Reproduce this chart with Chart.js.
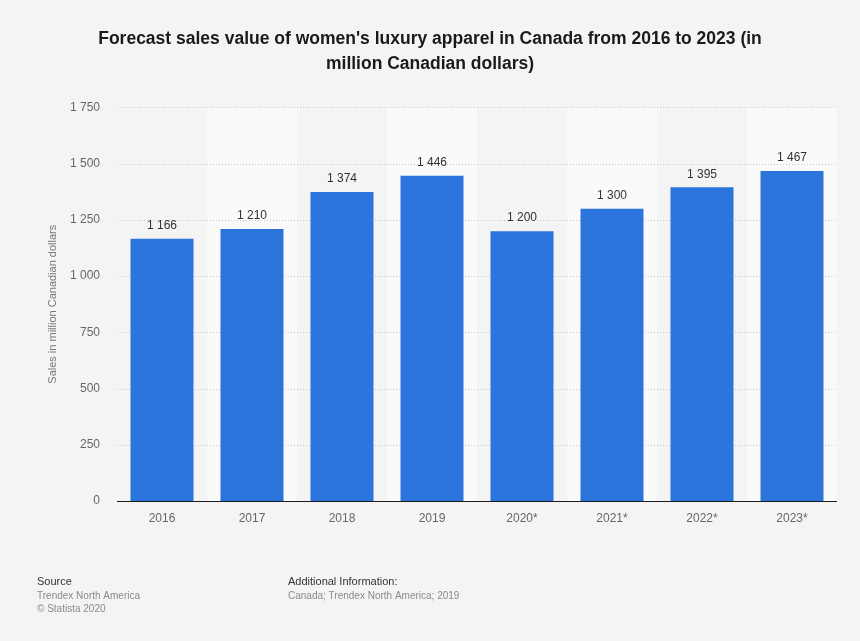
<!DOCTYPE html>
<html>
<head>
<meta charset="utf-8">
<script src="https://cdn.jsdelivr.net/npm/chart.js@4.4.0/dist/chart.umd.min.js"></script>
<style>
  html, body { margin: 0; padding: 0; background: #f4f4f4; }
  #wrap { width: 860px; height: 641px; position: relative; }
</style>
</head>
<body>
<div id="wrap"><canvas id="chart" width="860" height="641"></canvas></div>
<script>
var years = ['2016', '2017', '2018', '2019', '2020*', '2021*', '2022*', '2023*'];
var sales = [1166, 1210, 1374, 1446, 1200, 1300, 1395, 1467];
var yTicks = [0, 250, 500, 750, 1000, 1250, 1500, 1750];

function fmt(v) {
  // statista uses a space as thousands separator
  return String(v).replace(/\B(?=(\d{3})+(?!\d))/g, ' ');
}

// alternate light stripes behind every second category
var bandPlugin = {
  id: 'bands',
  beforeDatasetsDraw: function(chart) {
    var ctx = chart.ctx, area = chart.chartArea, x = chart.scales.x;
    var w = (area.right - area.left) / years.length;
    ctx.save();
    ctx.fillStyle = '#fafafa';
    for (var i = 1; i < years.length; i += 2) {
      var cx = x.getPixelForValue(i);
      ctx.fillRect(cx - w / 2, area.top, w, area.bottom - area.top);
    }
    // dotted grid on top of bands
    var y = chart.scales.y;
    ctx.strokeStyle = '#c8c8c8';
    ctx.lineWidth = 1;
    ctx.setLineDash([1, 2]);
    for (var j = 1; j < yTicks.length; j++) {
      var py = Math.round(y.getPixelForValue(yTicks[j])) + 0.5;
      ctx.beginPath();
      ctx.moveTo(area.left, py);
      ctx.lineTo(area.right, py);
      ctx.stroke();
    }
    ctx.setLineDash([]);
    ctx.strokeStyle = '#1a1a1a';
    var py0 = Math.round(y.getPixelForValue(0)) + 0.5;
    ctx.beginPath();
    ctx.moveTo(area.left, py0);
    ctx.lineTo(area.right, py0);
    ctx.stroke();
    ctx.restore();
  }
};

var labelPlugin = {
  id: 'valueLabels',
  afterDatasetsDraw: function(chart) {
    var ctx = chart.ctx;
    var meta = chart.getDatasetMeta(0);
    ctx.save();
    ctx.font = '12px "Liberation Sans", Arial, sans-serif';
    ctx.fillStyle = '#333333';
    ctx.textAlign = 'center';
    ctx.textBaseline = 'bottom';
    meta.data.forEach(function(bar, i) {
      ctx.fillText(fmt(sales[i]), bar.x, bar.y - 7);
    });
    ctx.restore();
  }
};

var footerPlugin = {
  id: 'footer',
  afterDraw: function(chart) {
    var ctx = chart.ctx;
    ctx.save();
    ctx.textBaseline = 'alphabetic';
    ctx.textAlign = 'left';
    ctx.font = '11px "Liberation Sans", Arial, sans-serif';
    ctx.fillStyle = '#333333';
    ctx.fillText('Source', 37, 585);
    ctx.fillText('Additional Information:', 288, 585);
    ctx.fillStyle = '#8a8a8a';
    ctx.font = '10px "Liberation Sans", Arial, sans-serif';
    ctx.fillText('Trendex North America', 37, 599);
    ctx.fillText('\u00A9 Statista 2020', 37, 612);
    ctx.fillText('Canada; Trendex North America; 2019', 288, 599);
    ctx.restore();
  }
};

var chartElement = document.getElementById('chart');

var chart = new Chart(chartElement, {
  type: 'bar',
  data: {
    labels: years,
    datasets: [{
      data: sales,
      backgroundColor: '#2a74dc',
      borderWidth: 0,
      barPercentage: 0.7,
      categoryPercentage: 1.0
    }]
  },
  options: {
    responsive: false,
    animation: false,
    layout: {
      padding: { left: 23, right: 23, top: 0, bottom: 110 }
    },
    plugins: {
      legend: { display: false },
      tooltip: { enabled: false },
      title: {
        display: true,
        text: ['Forecast sales value of women\'s luxury apparel in Canada from 2016 to 2023 (in', 'million Canadian dollars)'],
        color: '#1a1a1a',
        font: { family: '"Liberation Sans", Arial, sans-serif', size: 17.5, weight: 'bold', lineHeight: 1.47 },
        padding: { top: 26, bottom: 30 }
      }
    },
    scales: {
      x: {
        grid: { display: false, drawTicks: false },
        border: { display: false },
        ticks: {
          color: '#666666',
          padding: 10,
          font: { family: '"Liberation Sans", Arial, sans-serif', size: 12 }
        },
        afterFit: function(scale) { scale.height = 30; }
      },
      y: {
        min: 0,
        max: 1750,
        grid: { display: false, drawTicks: false },
        border: { display: false },
        afterBuildTicks: function(scale) {
          scale.ticks = yTicks.map(function(v) { return { value: v }; });
        },
        ticks: {
          color: '#666666',
          padding: 17,
          font: { family: '"Liberation Sans", Arial, sans-serif', size: 12 },
          callback: function(v) { return fmt(v); }
        },
        title: {
          display: true,
          text: 'Sales in million Canadian dollars',
          color: '#777777',
          font: { family: '"Liberation Sans", Arial, sans-serif', size: 11 },
          padding: { top: 23, bottom: 0 }
        },
        afterFit: function(scale) { scale.width = 94; }
      }
    }
  },
  plugins: [bandPlugin, labelPlugin, footerPlugin]
});
</script>
</body>
</html>
